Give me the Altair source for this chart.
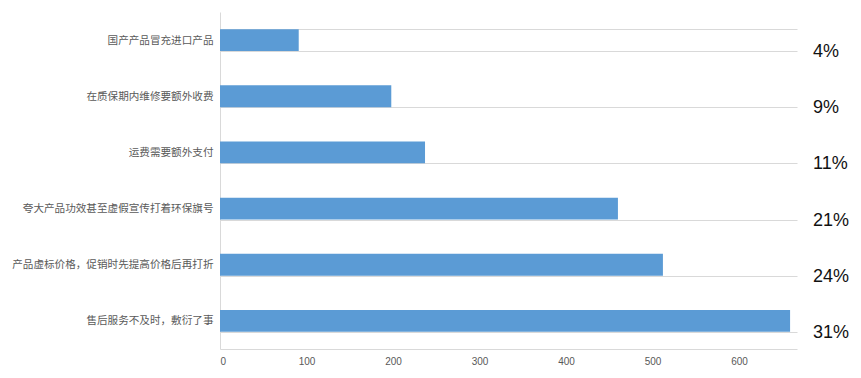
import altair as alt
import pandas as pd

categories = [
    "国产产品冒充进口产品",
    "在质保期内维修要额外收费",
    "运费需要额外支付",
    "夸大产品功效甚至虚假宣传打着环保旗号",
    "产品虚标价格，促销时先提高价格后再打折",
    "售后服务不及时，敷衍了事",
]
values = [91, 198, 237, 460, 512, 659]
percent_labels = ["4%", "9%", "11%", "21%", "24%", "31%"]
x_ticks = [0, 100, 200, 300, 400, 500, 600]

df = pd.DataFrame({"cat": categories, "val": values, "pct": percent_labels})

y_enc = alt.Y(
    "cat:N",
    sort=categories,
    scale=alt.Scale(paddingInner=0.61, paddingOuter=0.305),
    axis=alt.Axis(
        title=None,
        tickBand="extent",
        grid=True,
        gridColor="#d9d9d9",
        gridWidth=1,
        domain=True,
        domainColor="#d9d9d9",
        ticks=False,
        labelColor="#595959",
        labelFontSize=10.6,
        labelFont="Noto Sans CJK SC",
        labelPadding=7,
        labelLimit=300,
    ),
)

bars = alt.Chart(df).mark_bar(color="#5b9bd5").encode(
    x=alt.X(
        "val:Q",
        scale=alt.Scale(domain=[0, 667], nice=False),
        axis=alt.Axis(
            title=None,
            values=x_ticks,
            grid=False,
            ticks=False,
            domain=True,
            domainColor="#d9d9d9",
            labelColor="#595959",
            labelFontSize=10,
            labelFont="Liberation Sans",
            labelPadding=7,
        ),
    ),
    y=y_enc,
)

pct = alt.Chart(df).mark_text(
    align="left", baseline="middle", fontSize=18, font="Liberation Sans",
    color="#111111", dy=12,
).encode(
    x=alt.value(593),
    y=alt.Y("cat:N", sort=categories),
    text="pct:N",
)

chart = (
    alt.layer(bars, pct)
    .properties(
        width=577,
        height=337,
        autosize=alt.AutoSizeParams(type="none"),
        padding={"left": 220, "top": 12, "right": 64, "bottom": 29},
        background="#ffffff",
    )
    .configure_view(stroke=None)
)

chart.save("out.html", embed_options={"renderer": "svg", "actions": False})
